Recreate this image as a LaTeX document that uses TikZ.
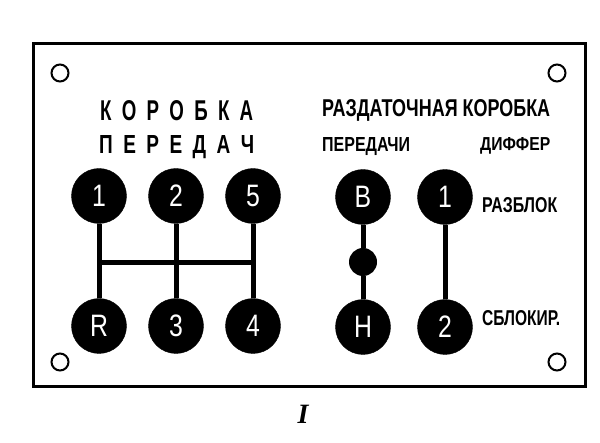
\documentclass[tikz,border=0pt]{standalone}
\usepackage{fontspec}
\usepackage{graphicx}
\setmainfont{Liberation Serif}
\newfontfamily\lblfont{Liberation Sans}
\newcommand\lsg{\hspace{0.55em}}
\tikzset{
  gear/.style={circle, fill=black, draw=black, minimum size=55pt, inner sep=0pt,
    text=white, font=\lblfont\fontsize{31}{31}\selectfont},
  hole/.style={circle, draw=black, line width=2pt, minimum size=17pt, inner sep=0pt},
  knob/.style={circle, fill=black, minimum size=28pt, inner sep=0pt},
  txt/.style={inner sep=0pt, font=\lblfont\bfseries},
  rod/.style={line width=5pt},
}
\begin{document}
\begin{tikzpicture}[x=1pt, y=-1pt]
\useasboundingbox (0,0) rectangle (600,443);
\fill[white] (0,0) rectangle (600,443);
\draw[line width=3pt] (33,44) rectangle (585,387);
% holes
\node[hole] (h1) at (60,73) {};
\node[hole] (h2) at (557,73) {};
\node[hole] (h3) at (60,362) {};
\node[hole] (h4) at (557,362) {};
% gear positions
\node[gear] (g1) at (99,196) {\scalebox{0.8}[1]{1}};
\node[gear] (g2) at (176,196) {\scalebox{0.8}[1]{2}};
\node[gear] (g5) at (253,196) {\scalebox{0.8}[1]{5}};
\node[gear] (gR) at (99,326) {\scalebox{0.8}[1]{R}};
\node[gear] (g3) at (176,326) {\scalebox{0.8}[1]{3}};
\node[gear] (g4) at (253,326) {\scalebox{0.8}[1]{4}};
\draw[rod] (g1) -- (gR);
\draw[rod] (g2) -- (g3);
\draw[rod] (g5) -- (g4);
\coordinate (bl) at (99,263);
\coordinate (br) at (253,263);
\draw[rod] (bl) -- (br);
% transfer case
\node[gear] (gB) at (363,197) {\scalebox{0.8}[1]{В}};
\node[gear] (gH) at (363,327) {\scalebox{0.8}[1]{Н}};
\node[knob] (kn) at (363,262) {};
\draw[rod] (gB) -- (kn);
\draw[rod] (kn) -- (gH);
\node[gear] (d1) at (445,197) {\scalebox{0.8}[1]{1}};
\node[gear] (d2) at (445,327) {\scalebox{0.8}[1]{2}};
\draw[rod] (d1) -- (d2);
% texts
\node[txt, anchor=base west] (t1) at (100,121) {\resizebox{153pt}{20pt}{К\lsg О\lsg Р\lsg О\lsg Б\lsg К\lsg А}};
\node[txt, anchor=base west] (t2) at (99,154) {\resizebox{155pt}{18pt}{П\lsg Е\lsg Р\lsg Е\lsg Д\lsg А\lsg Ч}};
\node[txt, anchor=base west] (t3) at (322,117) {\resizebox{228pt}{17pt}{РАЗДАТОЧНАЯ КОРОБКА}};
\node[txt, anchor=base west] (t4) at (322,152) {\resizebox{88pt}{14pt}{ПЕРЕДАЧИ}};
\node[txt, anchor=base west] (t5) at (480,151) {\resizebox{70pt}{13pt}{ДИФФЕР}};
\node[txt, anchor=base west] (t6) at (482,213) {\resizebox{75pt}{15pt}{РАЗБЛОК}};
\node[txt, anchor=base west] (t7) at (482,326) {\resizebox{78pt}{15pt}{СБЛОКИР.}};
\node[inner sep=0pt, font=\fontsize{28}{28}\selectfont\bfseries\itshape] (cap) at (303,414) {I};
\end{tikzpicture}
\end{document}
